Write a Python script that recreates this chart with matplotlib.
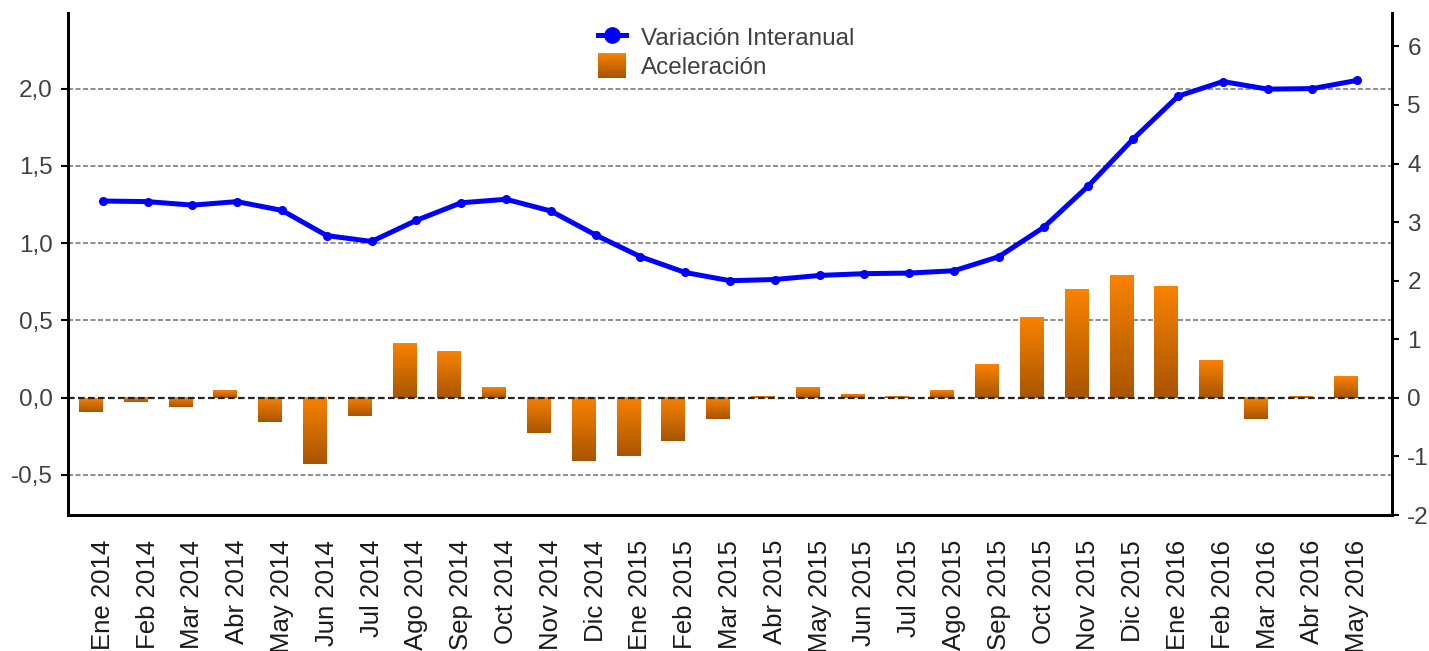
import numpy as np
import matplotlib
matplotlib.use("Agg")
from matplotlib import pyplot as plt
from matplotlib.colors import LinearSegmentedColormap
from matplotlib.patches import Rectangle
from matplotlib.lines import Line2D
from matplotlib.legend_handler import HandlerBase

plt.rcParams['font.family'] = ['Liberation Sans', 'DejaVu Sans']
plt.rcParams['axes.unicode_minus'] = False

meses = ["Ene 2014", "Feb 2014", "Mar 2014", "Abr 2014", "May 2014", "Jun 2014",
         "Jul 2014", "Ago 2014", "Sep 2014", "Oct 2014", "Nov 2014", "Dic 2014",
         "Ene 2015", "Feb 2015", "Mar 2015", "Abr 2015", "May 2015", "Jun 2015",
         "Jul 2015", "Ago 2015", "Sep 2015", "Oct 2015", "Nov 2015", "Dic 2015",
         "Ene 2016", "Feb 2016", "Mar 2016", "Abr 2016", "May 2016"]

# variacion interanual (eje derecho)
interanual = [3.36, 3.35, 3.29, 3.35, 3.20, 2.77, 2.67, 3.03, 3.33, 3.39,
              3.19, 2.78, 2.41, 2.14, 2.00, 2.02, 2.09, 2.12, 2.13, 2.17,
              2.41, 2.91, 3.62, 4.42, 5.15, 5.40, 5.27, 5.28, 5.42]

# aceleracion (eje izquierdo)
aceleracion = [-0.09, -0.03, -0.06, 0.05, -0.16, -0.43, -0.12, 0.35, 0.30, 0.07,
               -0.23, -0.41, -0.38, -0.28, -0.14, 0.01, 0.07, 0.02, 0.01, 0.05,
               0.22, 0.52, 0.70, 0.79, 0.72, 0.24, -0.14, 0.01, 0.14]

izq_ticks = [-0.5, 0.0, 0.5, 1.0, 1.5, 2.0]
der_ticks = [-2, -1, 0, 1, 2, 3, 4, 5, 6]

naranja = "#F98200"
marron = "#A85500"
cmap = LinearSegmentedColormap.from_list("grad", [naranja, marron])
gris = "#404040"

x = np.arange(len(meses))

fig = plt.figure(figsize=(14.29, 6.51), dpi=100)
ax = fig.add_axes([68 / 1429, 136 / 651, 1324 / 1429, 502 / 651])
ax2 = ax.twinx()

# barras con degradado
bars = ax.bar(x, aceleracion, width=-0.53, align="edge", color="none", zorder=2)
grad = np.linspace(0, 1, 100).reshape(-1, 1)
for b in bars:
    x0 = min(b.get_x(), b.get_x() + b.get_width())
    x1 = max(b.get_x(), b.get_x() + b.get_width())
    y0 = min(b.get_y(), b.get_y() + b.get_height())
    y1 = max(b.get_y(), b.get_y() + b.get_height())
    ax.imshow(grad, cmap=cmap, extent=[x0, x1, y0, y1], origin="upper",
              aspect="auto", zorder=2, interpolation="bilinear")

ax.set_xlim(-0.775, len(meses) - 1 + 0.775)
ax.set_ylim(-0.76, 2.49)
ax.set_yticks(izq_ticks)
ax.set_yticklabels([f"{v:.1f}".replace(".", ",") for v in izq_ticks])
for v in izq_ticks:
    if v == 0:
        ax.axhline(v, color="#222222", lw=1.6, ls=(0, (3, 1.5)), zorder=3)
    else:
        ax.axhline(v, color="#7a7a7a", lw=1.2, ls=(0, (3, 1.5)), zorder=1)

ax.set_xticks(x)
ax.set_xticklabels(meses, rotation=90, fontsize=18.5, color="#1a1a1a")
ax.tick_params(axis="x", length=0, pad=18)
ax.tick_params(axis="y", direction="out", length=5, width=1.5, labelsize=17.5,
               labelcolor=gris, pad=6)

# linea
ax2.plot(x, interanual, color="#0000FF", lw=3.6, marker="o", markersize=5.5,
         zorder=4)
ax2.set_ylim(-2.0, 6.57)
ax2.set_yticks(der_ticks)
ax2.tick_params(axis="y", direction="out", length=5, width=1.5, labelsize=17.5,
                labelcolor=gris, pad=6)

for a in (ax, ax2):
    a.spines["top"].set_visible(False)
    for s in ("left", "right", "bottom"):
        a.spines[s].set_linewidth(2)
        a.spines[s].set_color("black")


class HandlerGrad(HandlerBase):
    def create_artists(self, legend, orig_handle, xdescent, ydescent, width,
                       height, fontsize, trans):
        arts = []
        n = 20
        for i in range(n):
            r = Rectangle((-xdescent, -ydescent + height * (n - 1 - i) / n),
                          width, height / n + 0.3,
                          facecolor=cmap(i / (n - 1)), edgecolor="none",
                          transform=trans)
            arts.append(r)
        return arts


h_line = Line2D([], [], color="#0000FF", lw=3.6, marker="o", markersize=11)
h_bar = Rectangle((0, 0), 1, 1)
leg = ax2.legend([h_line, h_bar], ["Variación Interanual", "Aceleración"],
                 handler_map={Rectangle: HandlerGrad()},
                 loc="upper center", bbox_to_anchor=(0.497, 1.02), frameon=False,
                 fontsize=17.5, handlelength=1.15, handleheight=1.2,
                 handletextpad=0.6, labelspacing=0.1, labelcolor=gris)

fig.savefig("out.png", dpi=100)
